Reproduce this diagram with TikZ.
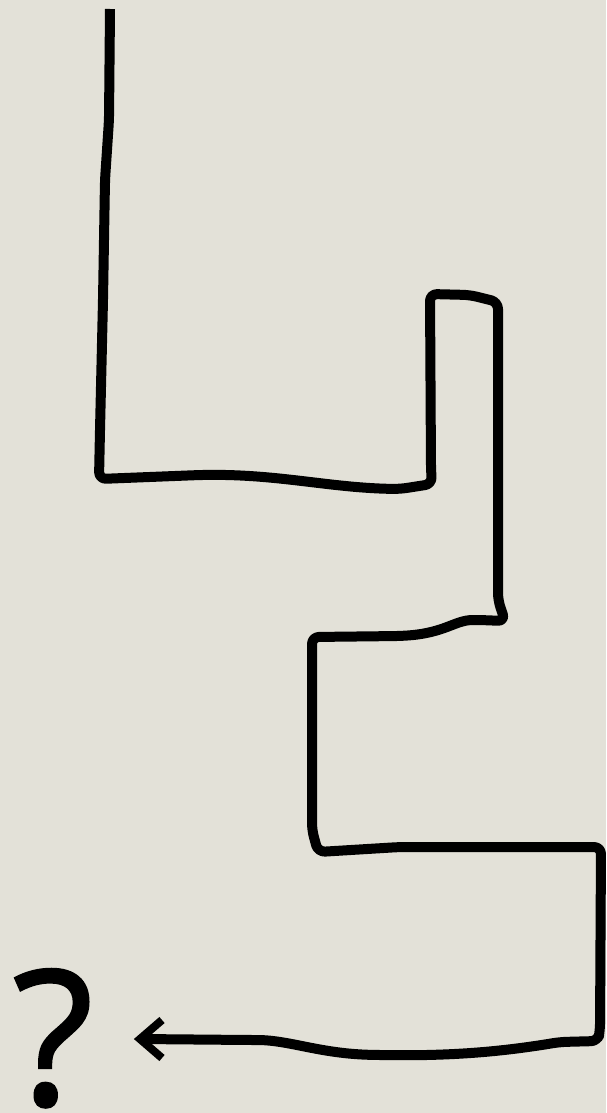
\documentclass[tikz,border=0pt]{standalone}
\usepackage{fontspec}
\newfontfamily\qfont[FakeBold=1.2]{Open Sans}
\definecolor{bg}{HTML}{E3E1D8}
\tikzset{pathline/.style={line width=10pt, rounded corners=7pt, line join=round, line cap=butt},
  headline/.style={line width=8pt, line join=miter, line cap=butt}}
\begin{document}
\begin{tikzpicture}[x=1pt,y=-1pt]
\fill[bg] (0,0) rectangle (606,1113);
\useasboundingbox (0,0) rectangle (606,1113);
\node[inner sep=0pt, anchor=base, font=\qfont\fontsize{188}{188}\selectfont] (q) at (53,1105) {?};
\coordinate (tip) at (140,1039);
\draw[pathline] (110,9) -- (109,120) -- (105,180) -- (103,300) -- (100,430) -- (99,479)
  -- (200,475) .. controls (280,474) and (330,488) .. (400,489) -- (432,484) -- (431,470)
  -- (430,294) -- (470,295) -- (498,302) -- (498,600) -- (505,621) -- (480,620)
  .. controls (455,620) and (445,633) .. (400,636) -- (312,637) -- (312,830) -- (318,852)
  -- (400,847) -- (601,847) -- (600,1030) -- (598,1041) -- (560,1042)
  .. controls (500,1052) and (450,1056) .. (380,1055)
  .. controls (320,1054) and (290,1040) .. (250,1040) -- (tip);
\draw[headline] (162,1020) -- (tip) -- (162,1058);
\end{tikzpicture}
\end{document}
